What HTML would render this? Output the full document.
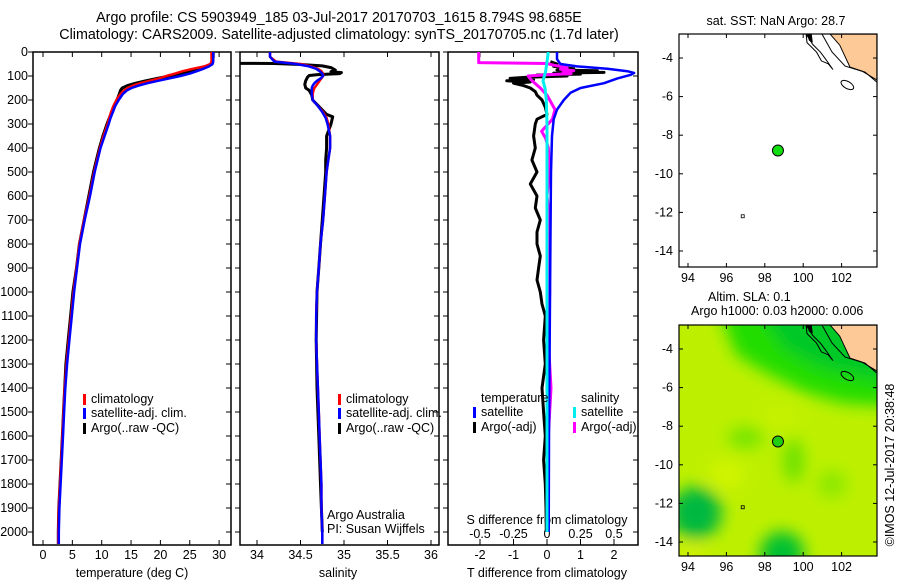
<!DOCTYPE html>
<html><head><meta charset="utf-8"><style>
body{margin:0;background:#fff;}
svg{display:block;font-family:"Liberation Sans",sans-serif;}
text{fill:#000;font-size:12.5px;}
</style></head><body>
<svg id="fig" width="900" height="580" viewBox="0 0 900 580" xmlns="http://www.w3.org/2000/svg">
<defs>
<clipPath id="c1"><rect x="33" y="52" width="198" height="493"/></clipPath>
<clipPath id="c2"><rect x="240" y="52" width="199" height="493"/></clipPath>
<clipPath id="c3"><rect x="448" y="52" width="190" height="493"/></clipPath>
<clipPath id="cm1"><rect x="679" y="34" width="198" height="233"/></clipPath>
<clipPath id="cm2"><rect x="679" y="325" width="198" height="231"/></clipPath>
<filter id="blur"><feGaussianBlur stdDeviation="8"/></filter>
</defs>
<text x="339" y="22" text-anchor="middle" style="font-size:14.3px">Argo profile: CS 5903949_185 03-Jul-2017 20170703_1615 8.794S 98.685E</text>
<text x="339" y="39" text-anchor="middle" style="font-size:14.3px">Climatology: CARS2009. Satellite-adjusted climatology: synTS_20170705.nc (1.7d later)</text>
<g id="g1"></g>
<g id="g2"></g>
<g id="g3"></g>
<g id="gm1"></g>
<g id="gm2"></g>
<text transform="translate(894,465) rotate(-90)" text-anchor="middle">©IMOS 12-Jul-2017 20:38:48</text>
</svg>
<script>
// ---- data ----
const depth = [0,20,40,50,60,70,80,90,100,110,120,130,140,150,160,175,200,225,250,275,300,350,400,450,500,600,700,800,900,1000,1100,1200,1300,1400,1500,1600,1700,1800,1900,2000,2050];
const tempClim = [28.7,28.7,28.7,28.5,27.5,25.5,23.8,22.5,21.0,19.8,18.2,16.6,15.3,14.4,13.8,13.2,12.5,12.0,11.6,11.3,11.0,10.3,9.7,9.2,8.7,7.9,7.0,6.2,5.7,5.2,4.8,4.4,4.0,3.7,3.5,3.3,3.1,2.9,2.7,2.6,2.6];
const tempSat = [29.0,29.0,29.0,28.9,28.3,27.3,26.2,25.0,23.4,21.5,19.6,17.8,16.3,15.1,14.3,13.6,12.9,12.3,11.9,11.5,11.2,10.5,9.8,9.3,8.8,8.0,7.1,6.3,5.8,5.3,4.9,4.5,4.1,3.8,3.6,3.4,3.2,3.0,2.8,2.7,2.7];
const tempArgo = [29.0,29.0,28.9,28.8,28.0,26.5,25.0,23.5,21.6,19.5,17.5,15.8,14.4,13.5,13.2,13.0,12.6,12.1,11.7,11.3,10.9,10.2,9.6,9.1,8.6,7.8,7.0,6.2,5.7,5.1,4.7,4.3,3.9,3.7,3.5,3.3,3.1,2.9,2.7,2.6,2.6];
const salClim = [34.15,34.15,34.22,34.5,34.62,34.70,34.74,34.76,34.76,34.74,34.72,34.70,34.68,34.66,34.65,34.64,34.64,34.70,34.76,34.80,34.82,34.84,34.84,34.82,34.80,34.78,34.76,34.73,34.71,34.69,34.68,34.68,34.69,34.70,34.71,34.72,34.73,34.74,34.74,34.75,34.75];
const salSat = [34.15,34.15,34.2,34.45,34.6,34.68,34.72,34.75,34.76,34.73,34.69,34.66,34.64,34.63,34.63,34.63,34.64,34.70,34.75,34.79,34.81,34.84,34.84,34.82,34.80,34.78,34.76,34.73,34.71,34.69,34.68,34.68,34.69,34.70,34.71,34.72,34.73,34.74,34.74,34.75,34.75];
const salArgoDepth = [47,48,52,58,65,75,82,86,90,94,98,105,120,135,150,160,180,200,230,260,270,300,350,400,450,500,600,700,800,900,1000,1200,1400,1600,1800,2000];
const salArgo = [33.7,34.2,34.5,34.75,34.85,34.9,34.85,34.97,34.95,34.7,34.6,34.58,34.56,34.55,34.56,34.6,34.63,34.64,34.72,34.8,34.87,34.85,34.8,34.80,34.79,34.79,34.77,34.75,34.73,34.71,34.69,34.68,34.69,34.71,34.73,34.75];
const tDiffSatDepth = [0,30,50,60,70,80,87,95,110,130,150,170,200,240,280,350,500,800,1200,1600,2000];
const tDiffSat = [0.3,0.3,0.4,0.9,1.8,2.4,2.6,2.5,2.1,1.7,1.0,0.7,0.5,0.3,0.2,0.15,0.12,0.1,0.08,0.06,0.05];
const tDiffArgoDepth = [40,50,60,70,75,78,82,85,88,92,96,100,105,110,115,120,125,130,140,150,165,180,200,230,260,280,300,350,400,450,500,550,600,650,700,750,800,850,900,950,1000,1050,1100,1200,1300,1400,1500,1600,1700,1800,1900,2000];
const tDiffArgo = [0.1,0.3,0.2,0.8,0.3,1.5,0.5,1.7,0.2,1.0,-0.3,0.6,-0.6,-1.1,-0.4,-1.2,-0.5,-1.0,-0.7,-0.5,-0.35,-0.3,-0.15,-0.05,0.0,-0.3,-0.35,-0.4,-0.35,-0.45,-0.3,-0.5,-0.3,-0.35,-0.2,-0.3,-0.3,-0.2,-0.25,-0.3,-0.2,-0.15,-0.05,-0.1,-0.05,-0.15,-0.1,-0.05,-0.1,-0.05,-0.03,-0.02];
const sDiffArgoDepth = [0,44,46,48,55,65,72,78,84,90,95,100,115,130,150,180,200,240,280,330,360,400,500,600,700,800,1000,1200,1400,1600,1800,2000];
const sDiffArgo = [-0.51,-0.51,-0.3,0.0,0.05,0.15,0.1,0.2,0.12,0.18,0.0,-0.14,-0.12,-0.09,-0.05,0.0,0.02,0.06,0.04,-0.04,-0.01,0.01,0.02,0.0,0.02,0.01,0.02,0.01,0.03,0.01,0.01,0.0];
const sDiffSatDepth = [0,40,80,120,150,200,300,500,1000,1500,2000];
const sDiffSat = [0.01,0.0,-0.01,-0.03,-0.015,-0.005,0.0,0.0,0.0,0.0,0.0];
const depthTicks = [0,100,200,300,400,500,600,700,800,900,1000,1100,1200,1300,1400,1500,1600,1700,1800,1900,2000];
const tempTicks = [0,5,10,15,20,25,30];
const salTicks = [34,34.5,35,35.5,36];
const tDiffTicks = [-2,-1,0,1,2];
const sDiffTicks = [-0.5,-0.25,0,0.25,0.5];
const sDiffTickLabels = ["-0.5","-0.25","0","0.25","0.5"];
const lonTicks = [94,96,98,100,102];
const latTicks = [-4,-6,-8,-10,-12,-14];
const argoLon = 98.685, argoLat = -8.794;
const landPoly = [[101.4,-2.76],[101.9,-3.33],[102.44,-4.47],[103.06,-4.68],[103.84,-5.14],[103.84,-2.76]];
const contourLine = [[100.98,-2.76],[101.5,-3.69],[102.18,-4.42],[103.22,-4.73],[103.84,-5.25]];
const islandContour = [[100.15,-2.76],[100.5,-3.3],[100.9,-3.7],[101.2,-4.1],[101.55,-4.6],[101.3,-4.3],[100.95,-4.15],[100.7,-3.7],[100.2,-3.2]];

// ---- helpers ----
const NS="http://www.w3.org/2000/svg";
function mk(parent,tag,attrs,txt){const e=document.createElementNS(NS,tag);for(const k in attrs)e.setAttribute(k,attrs[k]);if(txt!==undefined)e.textContent=txt;parent.appendChild(e);return e;}
const Y0=52,YS=0.24;
const dy=d=>Y0+d*YS;
const tx=t=>43+t*5.87;
const sx=s=>257+(s-34)*87;
const tdx=v=>547+v*33.5;
const sdx=v=>547+v*134;

function frame(g,x0,x1,bottomY){
  const r=mk(g,'rect',{x:x0,y:Y0,width:x1-x0,height:bottomY-Y0,fill:'none',stroke:'#000','stroke-width':1.5});
  
  
  depthTicks.forEach(d=>{
    mk(g,'line',{x1:x0-5,x2:x0,y1:dy(d),y2:dy(d),stroke:'#000'});
    mk(g,'line',{x1:x1-5,x2:x1,y1:dy(d),y2:dy(d),stroke:'#000'});
  });
}
function line(g,xs,ds,fx,color,w,clip,name){
  const p=xs.map((v,i)=>fx(v).toFixed(1)+','+dy(ds[i]).toFixed(1)).join(' ');
  const e=mk(g,'polyline',{points:p,fill:'none',stroke:color,'stroke-width':w,'clip-path':'url(#'+clip+')','stroke-linejoin':'round'});
  
  
}
function xticks(g,ticks,fx,labels,yTop,yBot,labY){
  ticks.forEach((t,i)=>{
    mk(g,'line',{x1:fx(t),x2:fx(t),y1:yBot-5,y2:yBot,stroke:'#000'});
    if(yTop!==null) mk(g,'line',{x1:fx(t),x2:fx(t),y1:yTop,y2:yTop+5,stroke:'#000'});
    const e=mk(g,'text',{x:fx(t),y:labY,'text-anchor':'middle'},labels[i]);
    
    
  });
}
function legendEntry(g,x,y,color,label){
  mk(g,'rect',{x:x,y:y-9,width:3,height:11,fill:color});
  const e=mk(g,'text',{x:x+8,y:y},label);
  
  
}

// ---- panel 1 ----
const g1=document.getElementById('g1');
frame(g1,33,231,545);
depthTicks.forEach(d=>{
  const e=mk(g1,'text',{x:28,y:dy(d)+4,'text-anchor':'end'},String(d));
  
  
});
xticks(g1,tempTicks,tx,tempTicks.map(String),52,545,559);
let e=mk(g1,'text',{x:132,y:577,'text-anchor':'middle'},'temperature (deg C)');


line(g1,tempArgo,depth,tx,'#000',3,'c1','temp-argo-line');
line(g1,tempClim,depth,tx,'#f00',2.5,'c1','temp-climatology-line');
line(g1,tempSat,depth,tx,'#00f',2.5,'c1','temp-satellite-line');
legendEntry(g1,83,403,'#f00','climatology');
legendEntry(g1,83,417,'#00f','satellite-adj. clim.');
legendEntry(g1,83,432,'#000','Argo(..raw -QC)');

// ---- panel 2 ----
const g2=document.getElementById('g2');
frame(g2,240,439,545);
xticks(g2,salTicks,sx,salTicks.map(String),52,545,559);
e=mk(g2,'text',{x:338,y:577,'text-anchor':'middle'},'salinity');


line(g2,salArgo,salArgoDepth,sx,'#000',3,'c2','sal-argo-line');
line(g2,salClim,depth,sx,'#f00',2.5,'c2','sal-climatology-line');
line(g2,salSat,depth,sx,'#00f',2.5,'c2','sal-satellite-line');
legendEntry(g2,338,403,'#f00','climatology');
legendEntry(g2,338,417,'#00f','satellite-adj. clim.');
legendEntry(g2,338,432,'#000','Argo(..raw -QC)');
e=mk(g2,'text',{x:327,y:519},'Argo Australia');


e=mk(g2,'text',{x:327,y:533},'PI: Susan Wijffels');



// ---- panel 3 ----
const g3=document.getElementById('g3');
frame(g3,448,638,545);
xticks(g3,tDiffTicks,tdx,tDiffTicks.map(String),52,545,559);
sDiffTicks.forEach((t,i)=>{
  mk(g3,'line',{x1:sdx(t),x2:sdx(t),y1:539,y2:545,stroke:'#000'});
  const el=mk(g3,'text',{x:sdx(t),y:538,'text-anchor':'middle'},sDiffTickLabels[i]);
  
  
});
e=mk(g3,'text',{x:547,y:524,'text-anchor':'middle'},'S difference from climatology');


e=mk(g3,'text',{x:547,y:577,'text-anchor':'middle'},'T difference from climatology');


line(g3,tDiffArgo,tDiffArgoDepth,tdx,'#000',3,'c3','tdiff-argo-line');
line(g3,sDiffArgo,sDiffArgoDepth,sdx,'#f0f',3,'c3','sdiff-argo-line');
line(g3,tDiffSat,tDiffSatDepth,tdx,'#00f',2.5,'c3','tdiff-satellite-line');
line(g3,sDiffSat,sDiffSatDepth,sdx,'#0ee',3,'c3','sdiff-satellite-line');
e=mk(g3,'text',{x:481,y:402},'temperature');


e=mk(g3,'text',{x:581,y:402},'salinity');


legendEntry(g3,473,416,'#00f','satellite');
legendEntry(g3,473,431,'#000','Argo(-adj)');
legendEntry(g3,573,416,'#0ee','satellite');
legendEntry(g3,573,431,'#f0f','Argo(-adj)');

// ---- maps ----
function drawMap(g,top,bottom,clip,shaded){
  const L=679,R=877;
  const lx=lon=>688+(lon-94)*19.2;
  const ly=lat=>top+24+(-4-lat)*19.3;
  if(shaded){
    mk(g,'rect',{x:L,y:top,width:R-L,height:bottom-top,fill:'#bdf000'});
    const bg=mk(g,'g',{'clip-path':'url(#'+clip+')'});
    const bb=mk(bg,'g',{filter:'url(#blur)'});
    mk(bb,'path',{d:`M${lx(95.5)},${top-20} L${R+20},${top-20} L${R+20},${ly(-7)} L${lx(102)},${ly(-6.8)} L${lx(100)},${ly(-6.2)} L${lx(98)},${ly(-5.2)} L${lx(96.5)},${ly(-4.3)} Z`,fill:'#22dd00'});
    mk(bb,'path',{d:`M${lx(97.5)},${top-20} L${R+20},${top-20} L${R+20},${ly(-5.8)} L${lx(101)},${ly(-5)} L${lx(99)},${ly(-4)} Z`,fill:'#00c828'});
    mk(bb,'circle',{cx:lx(94.4),cy:ly(-12.5),r:26,fill:'#00b840'});
    mk(bb,'circle',{cx:lx(98.9),cy:ly(-14.6),r:22,fill:'#00c030'});
    mk(bb,'ellipse',{cx:lx(99.5),cy:ly(-9.8),rx:10,ry:22,fill:'#66e000'});
    mk(bb,'ellipse',{cx:lx(97),cy:ly(-8.6),rx:18,ry:10,fill:'#70e400'});
    mk(bb,'ellipse',{cx:lx(101.5),cy:ly(-11),rx:14,ry:14,fill:'#8ae800'});
    mk(bb,'ellipse',{cx:lx(96),cy:ly(-10.5),rx:18,ry:14,fill:'#d2f400'});
    mk(bb,'ellipse',{cx:lx(98.8),cy:ly(-7.5),rx:20,ry:10,fill:'#c8f200'});
    mk(bb,'ellipse',{cx:lx(94.2),cy:ly(-14.6),rx:15,ry:8,fill:'#d8f200'});
  }
  const cl=mk(g,'g',{'clip-path':'url(#'+clip+')'});
  const pts=a=>a.map(p=>lx(p[0]).toFixed(1)+','+ly(p[1]).toFixed(1)).join(' ');
  const land=mk(cl,'polygon',{points:pts(landPoly),fill:'#fdc996',stroke:'#000','stroke-width':1});
  
  
  mk(cl,'polyline',{points:pts(contourLine),fill:'none',stroke:'#000','stroke-width':1});
  mk(cl,'polygon',{points:pts(islandContour),fill:'none',stroke:'#000','stroke-width':1});
  mk(cl,'polygon',{points:pts([[100.2,-2.76],[100.45,-2.76],[100.5,-3.2],[100.3,-3.1]]),fill:'#000'});
  mk(cl,'ellipse',{cx:lx(102.3),cy:ly(-5.4),rx:7,ry:3.5,fill:'none',stroke:'#000',transform:`rotate(30 ${lx(102.3)} ${ly(-5.4)})`});
  mk(cl,'rect',{x:lx(96.85)-1.5,y:ly(-12.2)-1.5,width:3,height:3,fill:'none',stroke:'#000','stroke-width':0.8});
  const dot=mk(g,'circle',{cx:lx(argoLon),cy:ly(argoLat),r:5.5,fill:shaded?'#22cc11':'#11dd11',stroke:'#000','stroke-width':1});
  
  
  mk(g,'rect',{x:L,y:top,width:R-L,height:bottom-top,fill:'none',stroke:'#000','stroke-width':1.2});
  lonTicks.forEach(l=>{
    mk(g,'line',{x1:lx(l),x2:lx(l),y1:top,y2:top+4,stroke:'#000'});
    mk(g,'line',{x1:lx(l),x2:lx(l),y1:bottom-4,y2:bottom,stroke:'#000'});
    const t=mk(g,'text',{x:lx(l),y:bottom+15,'text-anchor':'middle'},String(l));
    
    
  });
  latTicks.forEach(l=>{
    mk(g,'line',{x1:L,x2:L+4,y1:ly(l),y2:ly(l),stroke:'#000'});
    mk(g,'line',{x1:R-4,x2:R,y1:ly(l),y2:ly(l),stroke:'#000'});
    const t=mk(g,'text',{x:L-6,y:ly(l)+4,'text-anchor':'end'},String(l));
    
    
  });
}
const gm1=document.getElementById('gm1');
drawMap(gm1,34,267,'cm1',false);
e=mk(gm1,'text',{x:776,y:25,'text-anchor':'middle'},'sat. SST: NaN Argo: 28.7');


const gm2=document.getElementById('gm2');
drawMap(gm2,325,556,'cm2',true);
e=mk(gm2,'text',{x:708,y:301},'Altim. SLA: 0.1');


e=mk(gm2,'text',{x:691,y:315},'Argo h1000: 0.03 h2000: 0.006');


</script>
</body></html>
